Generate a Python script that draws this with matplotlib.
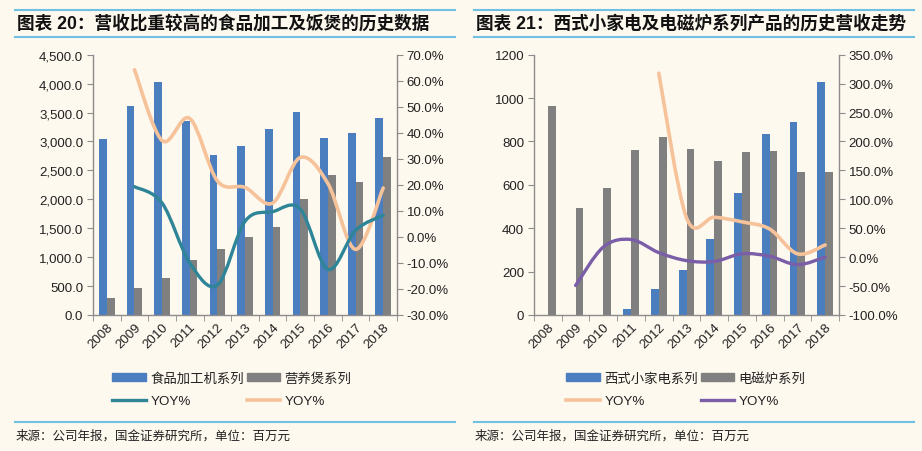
import numpy as np
import matplotlib
matplotlib.use("Agg")
import matplotlib.pyplot as plt
from matplotlib.path import Path
from matplotlib.patches import PathPatch, Patch
from matplotlib.lines import Line2D

plt.rcParams['font.family'] = ['Liberation Sans', 'Noto Sans CJK SC', 'DejaVu Sans']

years = ['2008', '2009', '2010', '2011', '2012', '2013', '2014', '2015', '2016', '2017', '2018']

# chart 20
food_proc = [3042, 3618, 4033, 3359, 2771, 2921, 3215, 3509, 3059, 3140, 3399]
nutri_pot = [294, 472, 640, 945, 1141, 1348, 1521, 1999, 2420, 2299, 2731]
food_yoy = [19.3, 13.0, -10.0, -18.5, 6.0, 9.7, 10.7, -12.5, 2.5, 8.3]     # 2009-2018
nutri_yoy = [64.2, 37.0, 45.5, 21.5, 19.0, 13.0, 30.5, 20.5, -4.8, 18.8]   # 2009-2018

# chart 21
western = [0, 0, 0, 28, 118, 207, 349, 562, 836, 888, 1072]
induction = [962, 493, 585, 762, 820, 765, 710, 750, 757, 659, 659]
western_yoy = [318.0, 68.0, 69.0, 61.0, 48.6, 5.8, 21.0]                   # 2012-2018
induction_yoy = [-49.0, 17.5, 30.5, 7.8, -6.0, -7.5, 5.8, 1.5, -13.0, 0.0]  # 2009-2018

BG = '#FEF9EF'
BLUE = '#4A7EBF'
GRAY = '#808080'
TEAL = '#2F8598'
PEACH = '#F6C29A'
PURPLE = '#7A5EA8'
RULE = '#6EC1E2'
SPINE = '#8C8C8C'
TXT = '#222222'


def smooth_path(xs, ys):
    # excel-like smoothed line: bezier segments through the points
    pts = list(zip(xs, ys))
    n = len(pts)
    verts = [pts[0]]
    codes = [Path.MOVETO]
    for i in range(n - 1):
        p0 = pts[i - 1] if i > 0 else pts[i]
        p1 = pts[i]
        p2 = pts[i + 1]
        p3 = pts[i + 2] if i + 2 < n else pts[i + 1]
        c1 = (p1[0] + (p2[0] - p0[0]) / 6, p1[1] + (p2[1] - p0[1]) / 6)
        c2 = (p2[0] - (p3[0] - p1[0]) / 6, p2[1] - (p3[1] - p1[1]) / 6)
        verts += [c1, c2, p2]
        codes += [Path.CURVE4] * 3
    return Path(verts, codes)


def style_axes(ax, ax2):
    for a in (ax, ax2):
        a.set_facecolor('none')
        a.spines['top'].set_visible(False)
        for s in ('left', 'right', 'bottom'):
            a.spines[s].set_color(SPINE)
            a.spines[s].set_linewidth(1.0)
    ax.spines['right'].set_visible(False)
    ax2.spines['left'].set_visible(False)
    ax2.spines['bottom'].set_visible(False)
    ax.tick_params(axis='y', direction='out', length=4, color=SPINE, labelsize=9.5, labelcolor=TXT, pad=3)
    ax2.tick_params(axis='y', direction='out', length=4, color=SPINE, labelsize=9.5, labelcolor=TXT, pad=3)
    x = np.arange(len(years))
    ax.set_xlim(-0.5, len(years) - 0.5)
    ax.set_xticks(x)
    ax.set_xticklabels(years, rotation=45, ha='right', va='top', rotation_mode='anchor')
    ax.set_xticks(np.arange(-0.5, len(years), 1.0), minor=True)
    ax.tick_params(axis='x', which='major', length=0, labelsize=9.5, labelcolor=TXT, pad=4)
    ax.tick_params(axis='x', which='minor', direction='out', length=4, color=SPINE)


fig = plt.figure(figsize=(9.22, 4.52), dpi=100)
fig.patch.set_facecolor(BG)

x = np.arange(len(years))
w = 0.28

# ---------------- left chart ----------------
ax = fig.add_axes([0.1009, 0.3009, 0.3297, 0.5759])
ax2 = ax.twinx()
ax.bar(x - w / 2, food_proc, w, color=BLUE)
ax.bar(x + w / 2, nutri_pot, w, color=GRAY)
ax.set_ylim(0, 4500)
ax.set_yticks(np.arange(0, 4501, 500))
ax.set_yticklabels(['{:,.1f}'.format(v) for v in np.arange(0, 4501, 500)])
ax2.set_ylim(-30, 70)
ax2.set_yticks(np.arange(-30, 71, 10))
ax2.set_yticklabels(['{:.1f}%'.format(v) for v in np.arange(-30, 71, 10)])
ax2.add_patch(PathPatch(smooth_path(x[1:], nutri_yoy), facecolor='none', edgecolor=PEACH,
                        lw=2.6, capstyle='round', joinstyle='round'))
ax2.add_patch(PathPatch(smooth_path(x[1:], food_yoy), facecolor='none', edgecolor=TEAL,
                        lw=2.4, capstyle='round', joinstyle='round'))
style_axes(ax, ax2)

h = [Patch(color=BLUE), Line2D([], [], color=TEAL, lw=2.4),
     Patch(color=GRAY), Line2D([], [], color=PEACH, lw=2.6)]
lab = ['食品加工机系列', 'YOY%', '营养煲系列', 'YOY%']
fig.legend(h, lab, ncol=2, loc='center', bbox_to_anchor=(232 / 922, 0.136), frameon=False,
           fontsize=9.6, handlelength=2.5, handleheight=0.5, handletextpad=0.35,
           columnspacing=0.2, labelspacing=0.75, borderpad=0, labelcolor=TXT)

# ---------------- right chart ----------------
bx = fig.add_axes([0.5792, 0.3009, 0.3308, 0.5759])
bx2 = bx.twinx()
bx.bar(x - w / 2, western, w, color=BLUE)
bx.bar(x + w / 2, induction, w, color=GRAY)
bx.set_ylim(0, 1200)
bx.set_yticks(np.arange(0, 1201, 200))
bx2.set_ylim(-100, 350)
bx2.set_yticks(np.arange(-100, 351, 50))
bx2.set_yticklabels(['{:.1f}%'.format(v) for v in np.arange(-100, 351, 50)])
bx2.add_patch(PathPatch(smooth_path(x[4:], western_yoy), facecolor='none', edgecolor=PEACH,
                        lw=2.6, capstyle='round', joinstyle='round'))
bx2.add_patch(PathPatch(smooth_path(x[1:], induction_yoy), facecolor='none', edgecolor=PURPLE,
                        lw=2.4, capstyle='round', joinstyle='round'))
style_axes(bx, bx2)

h = [Patch(color=BLUE), Line2D([], [], color=PEACH, lw=2.6),
     Patch(color=GRAY), Line2D([], [], color=PURPLE, lw=2.4)]
lab = ['西式小家电系列', 'YOY%', '电磁炉系列', 'YOY%']
fig.legend(h, lab, ncol=2, loc='center', bbox_to_anchor=(686 / 922, 0.136), frameon=False,
           fontsize=9.6, handlelength=2.5, handleheight=0.5, handletextpad=0.35,
           columnspacing=0.2, labelspacing=0.75, borderpad=0, labelcolor=TXT)

# ---------------- titles, rules, footers ----------------
def hline(x0, x1, ypix):
    y = 1 - ypix / 452
    fig.add_artist(Line2D([x0 / 922, x1 / 922], [y, y], color=RULE, lw=1.5))

for x0, x1 in ((15, 455), (474, 914)):
    hline(x0, x1, 10.5)
    hline(x0, x1, 37.5)
    hline(x0, x1, 423)

fig.text(17 / 922, 1 - 24 / 452, '图表 20：营收比重较高的食品加工及饭煲的历史数据',
         fontsize=12.7, fontweight='bold', color='#111111', va='center', ha='left')
fig.text(476 / 922, 1 - 24 / 452, '图表 21：西式小家电及电磁炉系列产品的历史营收走势',
         fontsize=12.7, fontweight='bold', color='#111111', va='center', ha='left')
fig.text(16 / 922, 1 - 436 / 452, '来源：公司年报，国金证券研究所，单位：百万元',
         fontsize=9.0, color=TXT, va='center', ha='left')
fig.text(475 / 922, 1 - 436 / 452, '来源：公司年报，国金证券研究所，单位：百万元',
         fontsize=9.0, color=TXT, va='center', ha='left')

fig.savefig('out.png', dpi=100, facecolor=BG)
